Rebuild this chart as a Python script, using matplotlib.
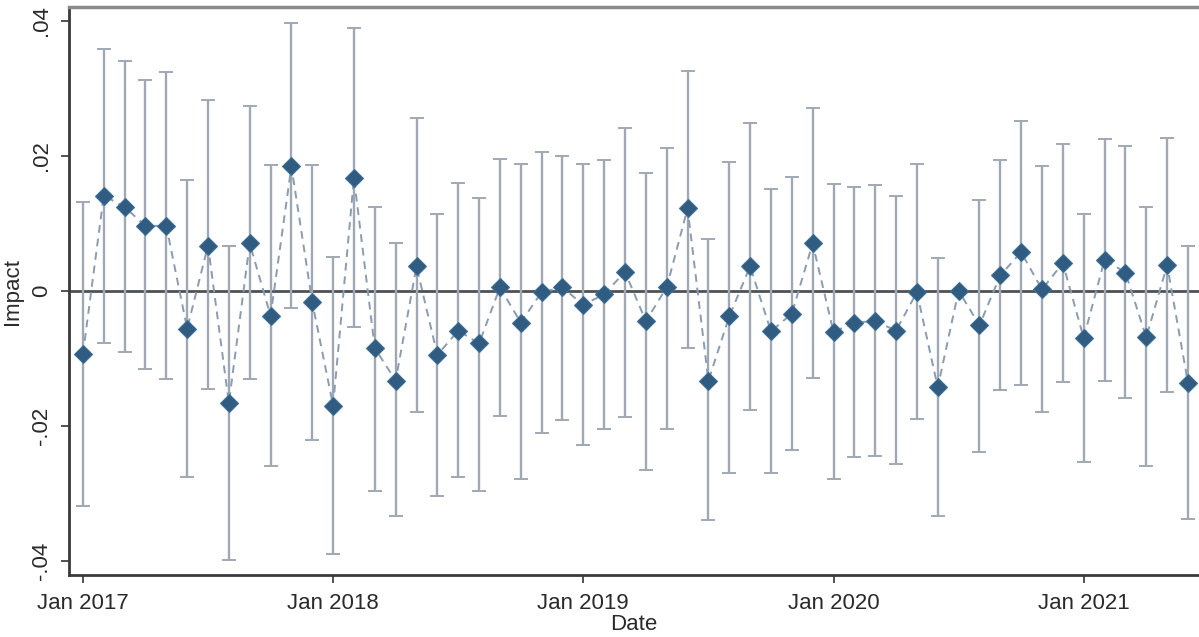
import numpy as np
import matplotlib.pyplot as plt

plt.rcParams['font.family'] = ['Liberation Sans', 'DejaVu Sans']

# monthly estimates, Jan 2017 - Jun 2021 (Apr 2020 is the omitted month)
coef = [-0.0094, 0.0141, 0.0124, 0.0096, 0.0096, -0.0056, 0.0067, -0.0166, 0.0070, -0.0037,
        0.0184, -0.0017, -0.0170, 0.0167, -0.0085, -0.0133, 0.0036, -0.0095, -0.0059, -0.0078,
        0.0005, -0.0047, -0.0002, 0.0005, -0.0021, -0.0005, 0.0028, -0.0045, 0.0005, 0.0122,
        -0.0133, -0.0038, 0.0036, -0.0060, -0.0034, 0.0070, -0.0061, -0.0047, -0.0045, -0.0059,
        -0.0002, -0.0143, 0.0000, -0.0051, 0.0023, 0.0057, 0.0002, 0.0041, -0.0070, 0.0046,
        0.0027, -0.0069, 0.0038, -0.0136]
ci_hi = [0.0131, 0.0358, 0.0340, 0.0312, 0.0324, 0.0164, 0.0282, 0.0066, 0.0273, 0.0186,
         0.0396, 0.0186, 0.0050, 0.0389, 0.0124, 0.0071, 0.0255, 0.0114, 0.0159, 0.0138,
         0.0195, 0.0187, 0.0205, 0.0199, 0.0187, 0.0193, 0.0241, 0.0174, 0.0211, 0.0325,
         0.0076, 0.0190, 0.0249, 0.0150, 0.0168, 0.0270, 0.0158, 0.0153, 0.0156, 0.0140,
         0.0187, 0.0048, np.nan, 0.0134, 0.0193, 0.0252, 0.0184, 0.0217, 0.0114, 0.0224,
         0.0214, 0.0124, 0.0226, 0.0066]
ci_lo = [-0.0318, -0.0078, -0.0091, -0.0116, -0.0131, -0.0276, -0.0146, -0.0398, -0.0131, -0.0259,
         -0.0026, -0.0221, -0.0389, -0.0054, -0.0296, -0.0334, -0.0180, -0.0304, -0.0276, -0.0297,
         -0.0186, -0.0279, -0.0210, -0.0192, -0.0229, -0.0205, -0.0187, -0.0265, -0.0204, -0.0084,
         -0.0339, -0.0269, -0.0177, -0.0270, -0.0235, -0.0129, -0.0279, -0.0246, -0.0244, -0.0256,
         -0.0190, -0.0333, np.nan, -0.0239, -0.0147, -0.0140, -0.0180, -0.0135, -0.0254, -0.0133,
         -0.0159, -0.0259, -0.0150, -0.0338]
tick_months = [0, 12, 24, 36, 48]
tick_labels = ['Jan 2017', 'Jan 2018', 'Jan 2019', 'Jan 2020', 'Jan 2021']
y_ticks = [-0.04, -0.02, 0, 0.02, 0.04]
y_labels = ['-.04', '-.02', '0', '.02', '.04']

coef = np.array(coef)
ci_hi = np.array(ci_hi)
ci_lo = np.array(ci_lo)
x = np.arange(len(coef))

fig = plt.figure(figsize=(11.99, 6.37), dpi=100)
ax = fig.add_axes([0.0575, 0.097, 0.9425, 0.892])

ax.axhline(0, color='#4d5257', lw=2, zorder=1)
ax.errorbar(x, coef, yerr=[coef - ci_lo, ci_hi - coef], fmt='none',
            ecolor='#a0a9b3', elinewidth=1.7, capsize=5, capthick=1.4, zorder=2)
ax.plot(x, coef, ls=(0, (4, 3)), color='#8a9cb0', lw=1.4, zorder=3)
ax.plot(x, coef, ls='none', marker='D', markersize=9, color='#2f5c80',
        markeredgecolor='#3f6f96', markeredgewidth=0.8, zorder=4)

ax.set_xlim(-0.67, 53.53)
ax.set_ylim(-0.0421, 0.042)
ax.set_xticks(tick_months)
ax.set_xticklabels(tick_labels)
ax.set_yticks(y_ticks)
ax.set_yticklabels(y_labels, rotation=90, va='center')
ax.tick_params(axis='both', labelsize=16, color='#333333', width=1.2, length=6, labelcolor='#2a2a2a')
ax.tick_params(axis='x', pad=7)
ax.tick_params(axis='y', pad=6)
ax.set_xlabel('Date', fontsize=16, labelpad=0, color='#2a2a2a')
ax.set_ylabel('Impact', fontsize=16, labelpad=6, color='#2a2a2a')

for s in ['left', 'bottom']:
    ax.spines[s].set_color('#3a3a3a')
    ax.spines[s].set_linewidth(2)
ax.spines['top'].set_color('#8a8a8a')
ax.spines['top'].set_linewidth(2.5)
ax.spines['right'].set_visible(False)

fig.savefig('out.png', dpi=100)
